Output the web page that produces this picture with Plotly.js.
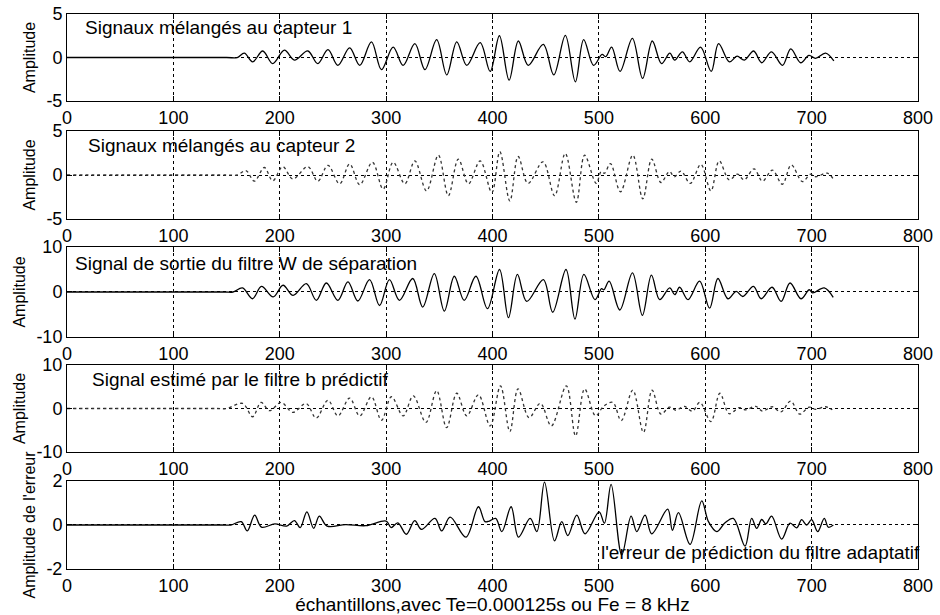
<!DOCTYPE html>
<html>
<head>
<meta charset="utf-8">
<script src="https://cdn.plot.ly/plotly-3.0.1.min.js"></script>
<style>html,body{margin:0;padding:0;background:#fff;}#chart{width:940px;height:615px;}</style>
</head>
<body>
<div id="chart"></div>
<script>
// ---- data (extremes of each trace) ----
const xTicks = [0, 100, 200, 300, 400, 500, 600, 700, 800];

const s1x = [0, 150, 160, 166.7, 174.5, 184, 193.4, 204.4, 213.8, 226.4, 235.8, 245.3, 254.7, 265.7, 275.2, 286.2, 295.6, 306.6, 316, 327, 336.5, 347.5, 357, 366.4, 375.8, 388.4, 397.8, 406.5, 415.6, 424.3, 433.6, 447.7, 457.6, 468.5, 477.9, 485.7, 495, 503, 506.5, 512, 519.9, 531.5, 541.1, 550.2, 558.9, 566.7, 571.3, 578.5, 585.4, 595.6, 605.6, 612.5, 622.7, 629.9, 636.8, 645.5, 653, 662.3, 672.6, 680.4, 689.7, 697.5, 703.7, 713.1, 720.9];
const s1y = [0, 0, 0, 0.5, -0.5, 0.75, -0.7, 0.85, -0.3, 0.75, -0.7, 0.9, -0.9, 1.1, -0.9, 1.8, -1.4, 1.2, -0.9, 1.6, -1.4, 2.05, -2.0, 1.8, -0.9, 1.7, -1.6, 2.5, -2.6, 1.9, -0.9, 1.5, -2.0, 2.55, -2.8, 2.05, -0.9, 0.35, 0.1, 1.2, -1.6, 2.2, -2.4, 1.9, -0.7, 0.5, -0.3, 0.65, -0.5, 1.2, -1.6, 1.6, -0.5, 0.15, -0.3, 0.75, -0.6, 0.65, -0.9, 1.0, -0.6, 0.25, -0.1, 0.5, -0.4];

const s2x = [0, 150, 160, 168.2, 176.1, 185.5, 193.4, 202.8, 212.3, 226.4, 235.8, 245.3, 256.3, 265.7, 275.2, 287.1, 297.2, 306.6, 317.6, 327, 338, 349.1, 358.5, 367.9, 377.4, 388.4, 399.4, 406.9, 416.3, 424.1, 433.4, 447.5, 458.4, 468.4, 478.8, 486.6, 497.5, 502.2, 505.3, 510.9, 520.3, 531.9, 541.3, 549.7, 558.4, 566.3, 570.9, 577.2, 585.9, 595.9, 605.3, 613.1, 622.5, 630.3, 636.6, 645.9, 653.8, 663.1, 672.5, 680.9, 691.3, 699.1, 703.8, 714.7, 720.9];
const s2y = [0, 0, 0, 0.5, -0.7, 0.85, -0.65, 0.95, -0.45, 0.95, -0.7, 1.1, -1.0, 1.25, -1.1, 1.45, -1.6, 1.45, -1.0, 1.6, -1.8, 2.25, -2.35, 1.8, -1.0, 1.6, -2.0, 2.65, -2.95, 2.1, -0.95, 1.5, -2.35, 2.45, -3.1, 2.25, -0.95, 0.4, 0.2, 1.3, -1.9, 2.25, -2.7, 1.8, -0.85, 0.4, -0.2, 0.45, -0.95, 1.2, -1.8, 1.6, -0.55, 0.1, -0.55, 0.7, -0.7, 0.55, -1.05, 1.15, -0.75, 0.1, -0.2, 0.2, -0.55];

const s3x = [0, 148, 156, 165, 174.4, 182.8, 193.8, 203.1, 212.5, 225, 234.4, 243.8, 254.7, 264.1, 273.4, 284.4, 293.8, 303.1, 312.5, 325, 334.4, 345.3, 354.7, 364.1, 373.4, 384.4, 395.3, 406.6, 415, 423.4, 432.2, 447.8, 456.6, 469.1, 477.5, 485.9, 496.3, 502.5, 504.7, 509.7, 519.7, 531.6, 540.9, 549.4, 557.2, 566.6, 571.3, 575.9, 583.8, 594.7, 604.1, 611.9, 621.3, 629.1, 635.3, 645.3, 652.5, 662.8, 671.3, 679.7, 690, 697.8, 700.9, 711.9, 720.3];
const s3y = [0, 0, 0, 0.9, -1.5, 1.25, -1.1, 1.5, -0.75, 1.85, -1.85, 2.0, -1.85, 2.25, -2.0, 2.75, -3.0, 2.75, -1.85, 3.0, -3.35, 4.1, -4.25, 3.5, -1.85, 3.5, -3.7, 5.0, -5.7, 3.9, -2.1, 2.75, -4.5, 5.0, -6.0, 3.9, -1.7, 0.75, 0.5, 2.4, -4.0, 4.25, -5.2, 3.75, -1.7, 0.9, -0.6, 1.05, -1.7, 2.4, -3.6, 3.0, -1.5, 0.15, -1.0, 1.25, -1.5, 1.05, -2.1, 2.0, -1.5, 0.5, -0.2, 0.9, -1.2];

const s4x = [0, 140, 150, 165.1, 174.5, 182.4, 190.3, 201.3, 212.3, 224.8, 234.3, 245.3, 254.7, 265.7, 275.2, 286.2, 295.6, 305, 316, 325.5, 337.4, 347.5, 356.9, 366.4, 375.8, 386.8, 397.8, 407.5, 416.3, 424, 434.4, 445, 455.3, 469.4, 478.1, 486.6, 496.9, 504.4, 513.1, 521, 531.9, 541.9, 550, 558.4, 566.3, 572.5, 580.3, 588, 595, 605.3, 613.8, 622.5, 631.9, 638, 647.5, 653.8, 663, 671, 680.3, 688.8, 697.5, 703.8, 713, 719.4];
const s4y = [0, 0, 0, 1.15, -1.9, 1.4, -0.5, 1.4, -0.9, 1.15, -2.2, 1.9, -1.7, 2.4, -1.7, 2.7, -2.7, 2.7, -1.7, 2.9, -3.2, 4.1, -4.4, 3.5, -1.7, 3.15, -4.0, 5.2, -5.3, 4.5, -2.1, 1.2, -4.0, 5.2, -6.3, 4.5, -1.7, 0.5, 1.4, -2.8, 4.2, -5.5, 4.2, -1.3, 0.3, -0.4, 0.5, -0.6, 1.4, -3.0, 3.5, -1.2, 0.2, -0.3, 0.5, -0.6, 0.4, -0.8, 1.7, -1.3, 0.3, -0.2, 0.4, -0.3];

const s5x = [0, 145, 154, 163.8, 169.5, 176.4, 182.8, 195.4, 206.5, 213.8, 219.2, 225.5, 231.9, 237.2, 244.5, 262, 281, 300, 304.7, 311, 319, 326.9, 333.2, 345.9, 352.2, 360.2, 375, 386.8, 393, 397, 403, 408.8, 417.5, 424.4, 435.4, 441.7, 448.9, 458.3, 465.1, 470.8, 479.2, 487, 500.2, 505.2, 511.5, 521.5, 530.3, 535.6, 543.4, 549.7, 564.7, 569.1, 574.8, 585.7, 596.7, 603, 610.8, 618.6, 626.4, 637.4, 643.6, 648.4, 653.1, 657, 662.4, 671.8, 679.7, 686, 690.6, 695.3, 700, 705.7, 711.9, 715.7, 720.4];
const s5y = [0, 0, 0, 0.15, -0.27, 0.45, -0.1, 0.05, -0.05, 0.2, -0.12, 0.6, -0.15, 0.4, -0.05, 0.02, -0.03, 0.18, -0.12, 0.1, -0.42, 0.2, -0.2, 0.3, -0.27, 0.36, -0.55, 0.83, 0.15, 0.18, 0.3, -0.3, 0.83, -0.55, 0.3, -0.3, 1.95, -0.72, 0.15, -0.48, 0.45, -0.4, 0.6, 0.08, 1.85, -1.36, 0.4, -0.3, 0.45, -0.4, 0.72, -0.24, 0.56, -0.88, 1.1, 0.15, -0.3, 0.1, 0.3, -0.96, 0.3, -0.15, 0.25, 0.05, 0.4, -0.64, 0.08, -0.13, 0.24, 0.0, 0.24, -0.3, 0.3, -0.1, 0.0];

const panelTitles = ["Signaux mélangés au capteur 1", "Signaux mélangés au capteur 2", "Signal de sortie du filtre W de séparation", "Signal estimé par le filtre b prédictif", "l'erreur de prédiction du filtre adaptatif"];
const yTitles = ["Amplitude", "Amplitude", "Amplitude", "Amplitude", "Amplitude de l'erreur"];
const yRanges = [[-5, 5], [-5, 5], [-10, 10], [-10, 10], [-2, 2]];
const yTicks = [[-5, 0, 5], [-5, 0, 5], [-10, 0, 10], [-10, 0, 10], [-2, 0, 2]];
const xTitle = "échantillons,avec Te=0.000125s ou Fe = 8 kHz";

// ---- layout ----
const FONT = "Liberation Sans, Arial, Helvetica, sans-serif";
const domains = [[0.8432, 1.0], [0.6306, 0.7892], [0.418, 0.5802], [0.2108, 0.3676], [0.0, 0.1586]];
const dashes = ["solid", "dot", "solid", "dot", "solid"];
const xs = [s1x, s2x, s3x, s4x, s5x];
const ys = [s1y, s2y, s3y, s4y, s5y];

const data = [];
const layout = {
  width: 940, height: 615,
  margin: {l: 67, r: 22, t: 14, b: 46},
  paper_bgcolor: "#fff", plot_bgcolor: "#fff",
  showlegend: false,
  font: {family: FONT, color: "#000", size: 18},
  annotations: []
};

for (let i = 0; i < 5; i++) {
  const n = i === 0 ? "" : String(i + 1);
  data.push({
    type: "scatter", mode: "lines",
    x: xs[i], y: ys[i],
    xaxis: "x" + n, yaxis: "y" + n,
    line: {color: i % 2 === 1 ? "#333" : "#000", width: 1.3, dash: dashes[i], shape: "spline", smoothing: 1},
    hoverinfo: "skip"
  });
  const common = {
    showline: true, linecolor: "#000", linewidth: 1, mirror: "ticks",
    ticks: "inside", ticklen: 5, tickcolor: "#000", tickwidth: 1,
    showgrid: true, gridcolor: "#000", gridwidth: 1, griddash: "dot",
    zeroline: false, fixedrange: true,
    tickfont: {family: FONT, size: 18, color: "#000"}
  };
  layout["xaxis" + n] = Object.assign({}, common, {
    domain: [0, 1], anchor: "y" + n, range: [0, 800],
    tickmode: "array", tickvals: xTicks, ticktext: xTicks.map(String),
    title: i === 4 ? {text: xTitle, font: {family: FONT, size: 19, color: "#000"}, standoff: 4} : {text: ""}
  });
  layout["yaxis" + n] = Object.assign({}, common, {
    domain: domains[i], anchor: "x" + n, range: yRanges[i],
    tickmode: "array", tickvals: yTicks[i], ticktext: yTicks[i].map(String),
    title: {text: yTitles[i], font: {family: FONT, size: 16, color: "#000"}, standoff: 6}
  });
}

const annPos = [[15, 3.5, "left"], [18, 3.4, "left"], [6, 6.4, "left"], [22, 6.6, "left"], [null, -1.23, "right"]];
for (let i = 0; i < 5; i++) {
  const n = i === 0 ? "" : String(i + 1);
  const a = {
    text: panelTitles[i], showarrow: false,
    yref: "y" + n, y: annPos[i][1], yanchor: "middle",
    xanchor: annPos[i][2],
    font: {family: FONT, size: 19, color: "#000"}
  };
  if (annPos[i][0] === null) { a.xref = "paper"; a.x = 1.005; }
  else { a.xref = "x" + n; a.x = annPos[i][0]; }
  layout.annotations.push(a);
}

Plotly.newPlot("chart", data, layout, {displayModeBar: false, staticPlot: true});
</script>
</body>
</html>
